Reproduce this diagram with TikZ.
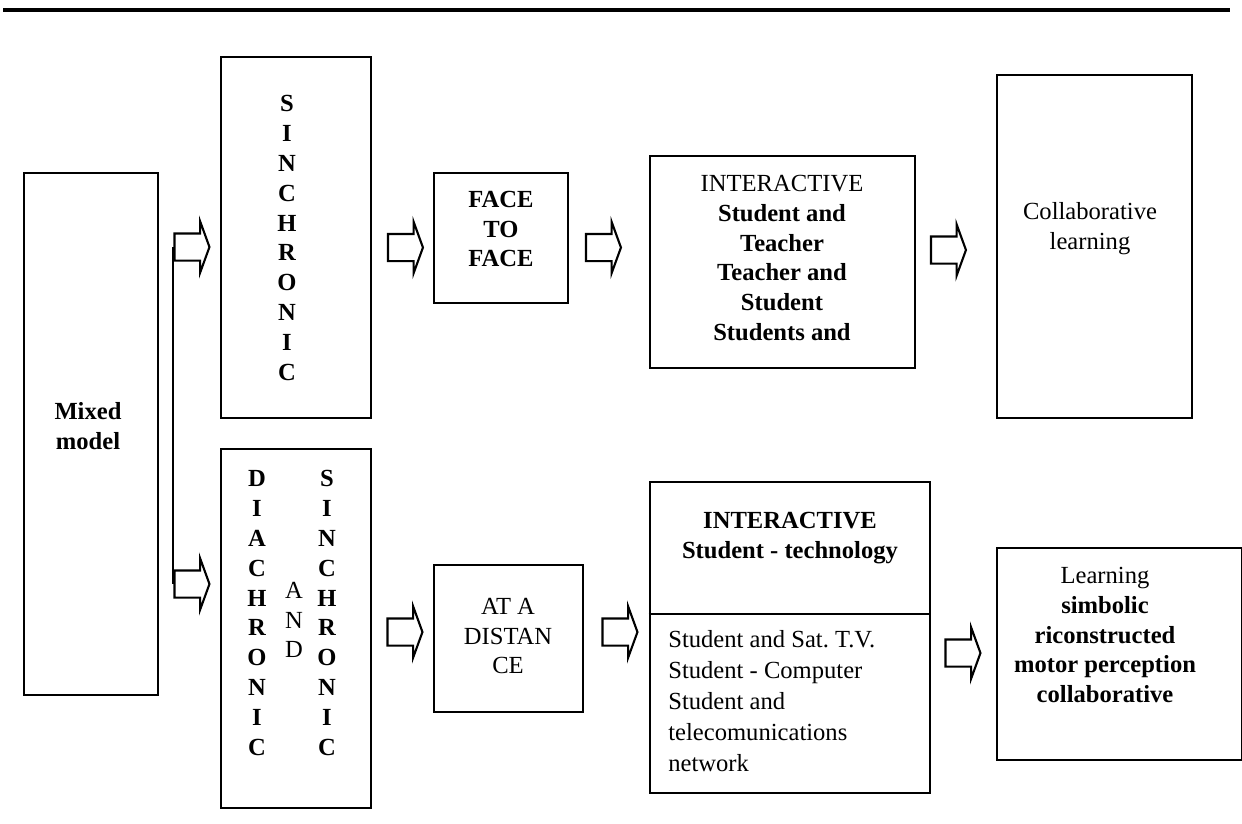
\documentclass[tikz,border=0pt]{standalone}
\usepackage{fontspec}
\setmainfont{Liberation Serif}
\usepackage{tikz}
\usetikzlibrary{shapes.arrows}

\begin{document}
\begin{tikzpicture}[
    x=0.02cm, y=-0.02cm,
    box/.style={rectangle, draw=black, line width=1.6pt, inner sep=0pt},
    blk/.style={single arrow, draw=black, line width=1.2pt, inner xsep=0pt, inner ysep=0.25cm,
        minimum height=0.7cm,
        single arrow head extend=0.24cm, single arrow tip angle=140},
    txt/.style={align=center, inner sep=0pt, font=\fontsize{14}{17}\selectfont},
    btxt/.style={txt, font=\fontsize{14}{17}\selectfont\bfseries}
]
    \useasboundingbox (0,0) rectangle (1242,823);
    \draw[line width=2.2pt] (3,10) -- (1230,10);

    % boxes
    \node[box, minimum width=2.68cm, minimum height=10.44cm] (mixed) at (91,434) {};
    \node[box, minimum width=3cm, minimum height=7.22cm] (sync) at (296,237.5) {};
    \node[box, minimum width=3cm, minimum height=7.18cm] (diasync) at (296,628.5) {};
    \node[box, minimum width=2.68cm, minimum height=2.6cm] (face) at (501,238) {};
    \node[box, minimum width=5.3cm, minimum height=4.24cm] (inter1) at (782.5,262) {};
    \node[box, minimum width=3.9cm, minimum height=6.86cm] (collab) at (1094.5,246.5) {};
    \node[box, minimum width=2.98cm, minimum height=2.94cm] (dist) at (508.5,638.5) {};
    \node[box, minimum width=5.6cm, minimum height=6.22cm] (inter2) at (790,637.5) {};
    \node[box, minimum width=4.9cm, minimum height=4.24cm] (learn) at (1119.5,654) {};
    \draw[line width=1.6pt] (inter2.west |- 0,614) -- (inter2.east |- 0,614);

    % texts
    \node[btxt] (mixedtxt) at (88,426) {Mixed\\model};
    \node[btxt] (synctxt) at (287,238) {S\\I\\N\\C\\H\\R\\O\\N\\I\\C};
    \node[btxt] (diatxt) at (257,613) {D\\I\\A\\C\\H\\R\\O\\N\\I\\C};
    \node[txt] (andtxt) at (294,620) {A\\N\\D};
    \node[btxt] (sync2txt) at (327,613) {S\\I\\N\\C\\H\\R\\O\\N\\I\\C};
    \node[btxt] (facetxt) at (501,229) {FACE\\TO\\FACE};
    \node[txt] (inter1txt) at (782,258) {INTERACTIVE\\\textbf{Student and}\\\textbf{Teacher}\\\textbf{Teacher and}\\\textbf{Student}\\\textbf{Students and}};
    \node[txt] (collabtxt) at (1090,228.5) {Collaborative\\learning};
    \node[txt] (disttxt) at (508,636) {AT A\\DISTAN\\CE};
    \node[btxt] (inter2txt) at (790,538) {INTERACTIVE\\Student - technology};
    \node[txt, align=left, anchor=west, font=\fontsize{14}{17.6}\selectfont] (linkstxt) at (668,701) {Student and Sat.\ T.V.\\Student - Computer\\Student and\\telecomunications\\network};
    \node[txt] (learntxt) at (1105,635) {Learning\\\textbf{simbolic}\\\textbf{riconstructed}\\\textbf{motor perception}\\\textbf{collaborative}};

    % block arrows
    \node[blk] (a1) at (189.5,247) {};
    \node[blk] (a2) at (189.5,584) {};
    \node[blk] (a3) at (403,247.5) {};
    \node[blk] (a4) at (601,247.5) {};
    \node[blk] (a5) at (946,250) {};
    \node[blk] (a6) at (402.5,632) {};
    \node[blk] (a7) at (617.5,632) {};
    \node[blk] (a8) at (960.5,653) {};
    \draw[line width=1.2pt] (a1.tail) -- (a2.tail);
\end{tikzpicture}
\end{document}
